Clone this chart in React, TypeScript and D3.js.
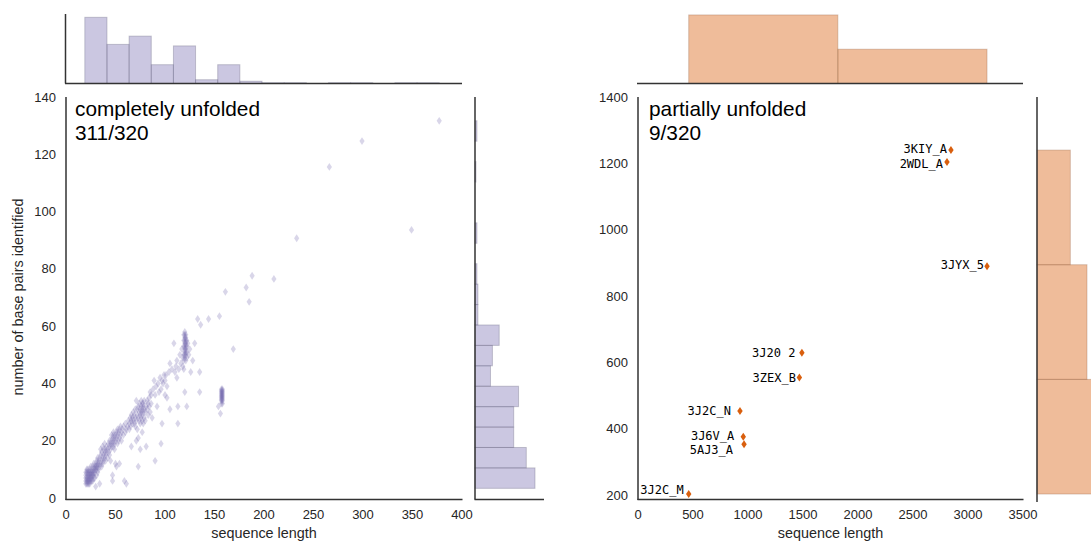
import React from 'react';
import * as d3 from 'd3';

// completely unfolded: [sequence length, base pairs identified]
const unfoldedPoints: [number, number][] = [
  [20,5],[20,6],[20,7],[20,8],[20,9],[21,5],[21,6],[21,7],[21,9],[21,10],[22,5],[22,6],[22,7],[22,8],[22,9],[22,10],
  [23,5],[23,6],[23,7],[23,8],[23,9],[24,5],[24,6],[24,7],[24,8],[24,9],[24,10],[25,6],[25,7],[25,8],[25,9],[25,11],
  [26,6],[26,7],[26,8],[26,9],[26,10],[27,6],[27,8],[27,9],[27,11],[28,7],[28,8],[28,9],[28,10],[28,12],[29,7],[29,9],
  [29,10],[29,11],[30,4],[30,10],[30,11],[30,12],[31,8],[31,10],[31,11],[31,13],[32,9],[32,11],[32,12],[32,14],[33,10],
  [33,12],[33,13],[34,5],[34,11],[34,14],[35,12],[35,15],[35,17],[36,11],[36,13],[36,16],[37,12],[37,14],[37,18],[38,13],
  [38,15],[38,17],[39,14],[39,16],[39,19],[40,13],[40,15],[40,17],[41,16],[41,18],
  [42,14],[42,17],[43,16],[43,19],[44,15],[44,18],[44,20],[45,13],[45,17],[45,19],[46,18],[46,20],[46,22],[47,6],[47,8],
  [47,19],[47,21],[48,18],[48,20],[48,22],[48,23],[49,17],[49,19],[49,21],[50,12],[50,20],[50,22],[51,11],[51,21],[51,23],
  [52,19],[52,22],[52,24],[53,20],[53,23],[54,12],[54,21],[54,24],[55,22],[55,25],[56,20],[56,23],[57,24],[58,22],[58,25],
  [59,6],[60,23],[60,26],[61,5],[61,24],[62,25],[63,27],
  [64,24],[64,26],[65,25],[65,28],[66,18],[66,27],[66,29],[67,26],[67,28],[68,27],[68,30],[69,26],[69,29],[70,25],[70,28],
  [70,31],[71,20],[71,27],[71,34],[72,24],[72,29],[72,31],[73,11],[73,21],[73,28],[73,32],[74,27],[74,30],[74,33],[75,17],
  [75,26],[75,29],[75,31],[76,28],[76,30],[76,32],[76,34],[77,23],[77,27],[77,29],[77,31],[77,33],[78,26],[78,30],[78,32],
  [78,33],[79,28],[79,31],[79,34],[80,27],[80,30],[81,18],[81,32],[82,31],[82,34],[83,29],[83,33],[84,32],[84,35],[85,30],
  [85,37],[86,33],[86,36],
  [87,28],[88,38],[89,41],[90,13],[90,36],[91,39],[92,32],[93,40],[94,37],[95,42],[96,19],[96,38],[97,26],[97,41],[98,40],
  [99,43],[100,36],[100,41],[101,43],[102,35],[102,39],[104,44],[105,31],[105,47],[107,45],
  [109,54],[110,44],[111,46],[112,42],[112,48],[113,26],[113,32],[114,45],[115,50],[116,47],[117,52],[118,46],[118,49],
  [119,45],[119,48],[119,50],[119,53],[119,55],[119,57],[120,37],[120,49],[120,50],[120,51],[120,52],[120,53],[120,54],
  [120,55],[120,56],[120,57],[120,58],[121,48],[121,50],[121,51],[121,52],[121,53],[121,54],[121,55],[121,56],[121,57],
  [122,32],[122,49],[122,51],[122,53],[122,55],[123,54],[124,50],[125,52],[126,44],[128,48],[130,54],
  [133,62.5],[135,37],[135,44],[136,60.5],[144,62.5],
  [154,32],[155,63.5],[156,29.5],[157,33],[157,34],[157,34.5],[157,35],[157,35.5],[157,36],[157,36.5],[157,37],[157,37.5],
  [157,38],[158,33],[158,34],[158,34.5],[158,35],[158,35.5],[158,36],[158,36.5],[158,37],[158,37.5],[158,38],[161,72],[169,52],
  [182,73.5],[185,68.5],[188,77.6],[210,76.5],[233,90.7],[266,115.6],[299,124.6],[349,93.6],[377,131.7],
];

// marginal histograms of the completely unfolded set
const seqHistRange: [number, number] = [19, 377];
const seqHistCounts = [88, 52, 63, 25, 50, 5, 25, 3, 1, 1, 0, 1, 1, 0, 1, 1];
const bpHistRange: [number, number] = [3.4, 131.7];
const bpHistCounts = [62, 53, 40, 40, 45, 16, 18, 25, 3, 3, 2, 0, 2, 0, 0, 1, 0, 2];

// partially unfolded
const partialIds = ['3KIY_A', '2WDL_A', '3JYX_5', '3J20 2', '3ZEX_B', '3J2C_N', '3J6V_A', '5AJ3_A', '3J2C_M'];
const partialSeq = [2845, 2809, 3173, 1490, 1467, 927, 957, 964, 461];
const partialBp = [1240, 1204, 890, 629, 554, 453, 376, 353, 203];
const partialSeqCounts = [6, 3];
const partialBpCounts = [4, 3, 2];

const leftXTicks = [0, 50, 100, 150, 200, 250, 300, 350, 400];
const leftYTicks = [0, 20, 40, 60, 80, 100, 120, 140];
const rightXTicks = [0, 500, 1000, 1500, 2000, 2500, 3000, 3500];
const rightYTicks = [200, 400, 600, 800, 1000, 1200, 1400];

const PURPLE = '#756bb1';
const ORANGE = '#d95f0e';
const SPINE = '#333';
const FONT = '"Liberation Sans", Arial, sans-serif';

// label nudges (px) so the text sits like in the original
const labelNudge: [number, number][] = [
  [-4, -1.5], [-4, 1.5], [-3, -1], [-6.5, 0], [-3.5, 0], [-9, 0], [-9, -0.5], [-11, 6], [-5, -4.5],
];

const diamond = (w: number, h: number) => `M0,${-h}L${w},0L0,${h}L${-w},0Z`;

function edges(range: [number, number], n: number) {
  const s = d3.scaleLinear().domain([0, n]).range(range);
  return d3.range(n + 1).map(s);
}

export default function App() {
  // ---- left panel scales
  const xL = d3.scaleLinear().domain([0, 400]).range([66, 462]);
  const yL = d3.scaleLinear().domain([-0.5, 140]).range([499.5, 97]);
  const topL = d3.scaleLinear().domain([0, d3.max(seqHistCounts)! * 1.05]).range([83.5, 14]);
  const sideL = d3.scaleLinear().domain([0, 71.3]).range([475, 544]);
  const seqEdges = edges(seqHistRange, seqHistCounts.length);
  const bpEdges = edges(bpHistRange, bpHistCounts.length);

  // ---- right panel scales
  const xR = d3.scaleLinear().domain([0, 3500]).range([638, 1023]);
  const yR = d3.scaleLinear().domain([185, 1400]).range([500, 97]);
  const topR = d3.scaleLinear().domain([0, d3.max(partialSeqCounts)! * 1.05]).range([83.5, 11.5]);
  const sideR = d3.scaleLinear().domain([0, d3.max(partialBpCounts)! * 1.05]).range([1037, 1107]);
  const pSeqEdges = edges(d3.extent(partialSeq) as [number, number], partialSeqCounts.length);
  const pBpEdges = edges(d3.extent(partialBp) as [number, number], partialBpCounts.length);

  const tickText = { fontFamily: FONT, fontSize: 13, fill: '#262626' };

  return (
    <svg width={1091} height={543} style={{ position: 'absolute', left: 0, top: 0, background: '#fff' }}>
      {/* ===== LEFT: top histogram */}
      {seqHistCounts.map((c, i) => (
        <rect key={'tl' + i} x={xL(seqEdges[i])} y={topL(c)} width={xL(seqEdges[i + 1]) - xL(seqEdges[i])}
          height={topL(0) - topL(c)} fill={PURPLE} fillOpacity={0.38} stroke="#6a6780" strokeOpacity={0.35} strokeWidth={1} />
      ))}
      <line x1={65.5} x2={65.5} y1={14} y2={83.5} stroke={SPINE} strokeWidth={1.5} />
      <line x1={65} x2={462} y1={83.5} y2={83.5} stroke={SPINE} strokeWidth={1.5} />

      {/* ===== LEFT: side histogram */}
      {bpHistCounts.map((c, i) => (
        <rect key={'sl' + i} x={sideL(0)} y={yL(bpEdges[i + 1])} width={sideL(c) - sideL(0)}
          height={yL(bpEdges[i]) - yL(bpEdges[i + 1])} fill={PURPLE} fillOpacity={0.38}
          stroke="#6a6780" strokeOpacity={c > 0 ? 0.35 : 0} strokeWidth={1} />
      ))}
      <line x1={475} x2={475} y1={97} y2={499.5} stroke={SPINE} strokeWidth={1.5} />
      <line x1={474.5} x2={544} y1={499.5} y2={499.5} stroke={SPINE} strokeWidth={1.5} />

      {/* ===== LEFT: scatter */}
      {unfoldedPoints.map(([s, b], i) => (
        <path key={'pl' + i} d={diamond(2.6, 3.9)} transform={`translate(${xL(s)},${yL(b)})`} fill={PURPLE} fillOpacity={0.28} />
      ))}
      <line x1={66} x2={66} y1={97} y2={500} stroke={SPINE} strokeWidth={1.5} />
      <line x1={65.5} x2={462.5} y1={499.5} y2={499.5} stroke={SPINE} strokeWidth={1.5} />
      {leftYTicks.map(t => (
        <text key={'yl' + t} x={56} y={yL(t)} dy="0.35em" textAnchor="end" {...tickText}>{t}</text>
      ))}
      {leftXTicks.map(t => (
        <text key={'xl' + t} x={xL(t)} y={519} textAnchor="middle" {...tickText}>{t}</text>
      ))}
      <text x={264} y={538} textAnchor="middle" {...tickText} fontSize={14.4}>sequence length</text>
      <text transform="translate(23,297) rotate(-90)" textAnchor="middle" {...tickText} fontSize={14.4}>
        number of base pairs identified
      </text>
      <text x={75} y={116} fontFamily={FONT} fontSize={20.8} fill="#000">completely unfolded</text>
      <text x={75} y={140} fontFamily={FONT} fontSize={20.8} fill="#000">311/320</text>

      {/* ===== RIGHT: top histogram */}
      {partialSeqCounts.map((c, i) => (
        <rect key={'tr' + i} x={xR(pSeqEdges[i])} y={topR(c)} width={xR(pSeqEdges[i + 1]) - xR(pSeqEdges[i])}
          height={topR(0) - topR(c)} fill={ORANGE} fillOpacity={0.42} stroke="#8a5a3a" strokeOpacity={0.3} strokeWidth={1} />
      ))}
      <line x1={637} x2={1023} y1={83.5} y2={83.5} stroke={SPINE} strokeWidth={1.5} />

      {/* ===== RIGHT: side histogram */}
      {partialBpCounts.map((c, i) => (
        <rect key={'sr' + i} x={sideR(0)} y={yR(pBpEdges[i + 1])} width={sideR(c) - sideR(0)}
          height={yR(pBpEdges[i]) - yR(pBpEdges[i + 1])} fill={ORANGE} fillOpacity={0.42}
          stroke="#8a5a3a" strokeOpacity={0.3} strokeWidth={1} />
      ))}
      <line x1={1037} x2={1037} y1={97} y2={502} stroke={SPINE} strokeWidth={1.5} />

      {/* ===== RIGHT: scatter */}
      {partialIds.map((id, i) => (
        <g key={'pr' + id} transform={`translate(${xR(partialSeq[i])},${yR(partialBp[i])})`}>
          <path d={diamond(2.7, 4)} fill={ORANGE} />
          <text x={labelNudge[i][0]} y={labelNudge[i][1]} dy="0.35em" textAnchor="end"
            fontFamily='"DejaVu Sans Mono", monospace' fontSize={12} fill="#000">{id}</text>
        </g>
      ))}
      <line x1={638} x2={638} y1={97} y2={500} stroke={SPINE} strokeWidth={1.5} />
      <line x1={637.5} x2={1023.5} y1={499.5} y2={499.5} stroke={SPINE} strokeWidth={1.5} />
      {rightYTicks.map(t => (
        <text key={'yr' + t} x={628} y={yR(t)} dy="0.35em" textAnchor="end" {...tickText}>{t}</text>
      ))}
      {rightXTicks.map(t => (
        <text key={'xr' + t} x={xR(t)} y={519} textAnchor="middle" {...tickText}>{t}</text>
      ))}
      <text x={830.5} y={538} textAnchor="middle" {...tickText} fontSize={14.4}>sequence length</text>
      <text x={649} y={116} fontFamily={FONT} fontSize={20.8} fill="#000">partially unfolded</text>
      <text x={649} y={140} fontFamily={FONT} fontSize={20.8} fill="#000">9/320</text>
    </svg>
  );
}
